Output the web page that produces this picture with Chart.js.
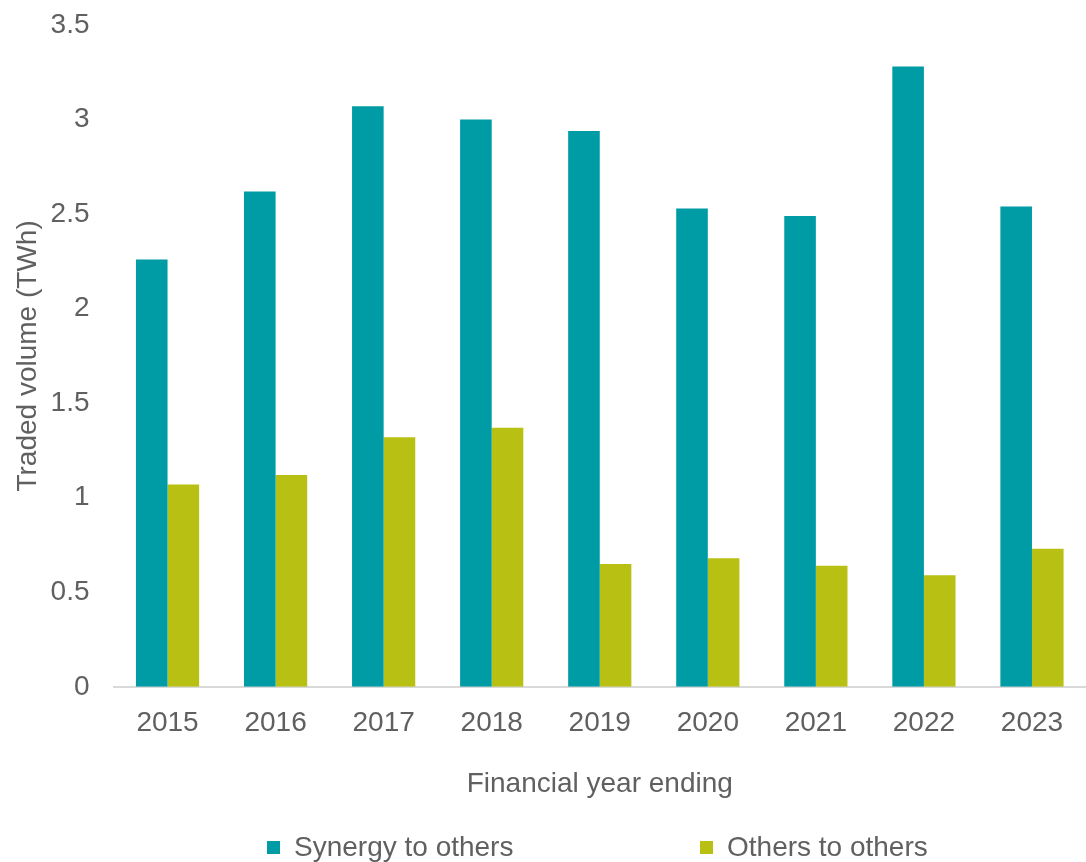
<!DOCTYPE html>
<html>
<head>
<meta charset="utf-8">
<title>Traded volume</title>
<script src="https://cdn.jsdelivr.net/npm/chart.js@4/dist/chart.umd.min.js"></script>
<style>
    html, body { margin: 0; padding: 0; background: #fff; }
    #wrap { width: 1086px; height: 862px; }
</style>
</head>
<body>
<div id="wrap"><canvas id="volumeChart" width="1086" height="862"></canvas></div>
<script>
const years = ["2015", "2016", "2017", "2018", "2019", "2020", "2021", "2022", "2023"];
const synergyToOthers = [2.26, 2.62, 3.07, 3.00, 2.94, 2.53, 2.49, 3.28, 2.54];
const othersToOthers = [1.07, 1.12, 1.32, 1.37, 0.65, 0.68, 0.64, 0.59, 0.73];
const seriesNames = ["Synergy to others", "Others to others"];
const yTickMax = 3.5;
const yTickStep = 0.5;

const TEXT = "#606060";
const FONT = "'Liberation Sans', Arial, sans-serif";

// wide-spaced legend like the original, drawn under the axis title
const spreadLegend = {
    id: "spreadLegend",
    afterDraw(chart) {
        const ctx = chart.ctx;
        const xs = [267, 700];
        const y = 848;
        ctx.save();
        ctx.font = "28px " + FONT;
        ctx.textBaseline = "middle";
        ctx.textAlign = "left";
        chart.data.datasets.forEach((ds, i) => {
            ctx.fillStyle = ds.backgroundColor;
            ctx.fillRect(xs[i], y - 7, 13, 13);
            ctx.fillStyle = TEXT;
            ctx.fillText(ds.label, xs[i] + 27, y);
        });
        ctx.restore();
    }
};

new Chart(document.getElementById("volumeChart").getContext("2d"), {
    type: "bar",
    data: {
        labels: years,
        datasets: [
            {
                label: seriesNames[0],
                data: synergyToOthers,
                backgroundColor: "#009ca6",
                categoryPercentage: 0.585,
                barPercentage: 1.0,
            },
            {
                label: seriesNames[1],
                data: othersToOthers,
                backgroundColor: "#b8c113",
                categoryPercentage: 0.585,
                barPercentage: 1.0,
            },
        ],
    },
    options: {
        responsive: false,
        animation: false,
        layout: {
            padding: { top: 25, left: 5, right: 0, bottom: 61 },
        },
        plugins: {
            legend: { display: false },
            tooltip: { enabled: false },
        },
        scales: {
            x: {
                grid: { display: false, drawTicks: false },
                border: { display: true, color: "#d9d9d9", width: 2 },
                ticks: {
                    color: TEXT,
                    padding: 20,
                    font: { family: FONT, size: 28 },
                },
                title: {
                    display: true,
                    text: "Financial year ending",
                    color: TEXT,
                    padding: { top: 7, bottom: 0 },
                    font: { family: FONT, size: 28 },
                },
            },
            y: {
                min: 0,
                max: yTickMax,
                grid: { display: false, drawTicks: false },
                border: { display: false },
                ticks: {
                    stepSize: yTickStep,
                    color: TEXT,
                    padding: 24,
                    font: { family: FONT, size: 28 },
                    callback: (value) => String(value),
                },
                title: {
                    display: true,
                    text: "Traded volume (TWh)",
                    color: TEXT,
                    padding: { top: 6, bottom: -18 },
                    font: { family: FONT, size: 28 },
                },
                afterFit: (scale) => {
                    // tick padding should not push the plot top down
                    scale.paddingTop = 0;
                    scale.paddingBottom = 0;
                },
            },
        },
    },
    plugins: [spreadLegend],
});
</script>
</body>
</html>
